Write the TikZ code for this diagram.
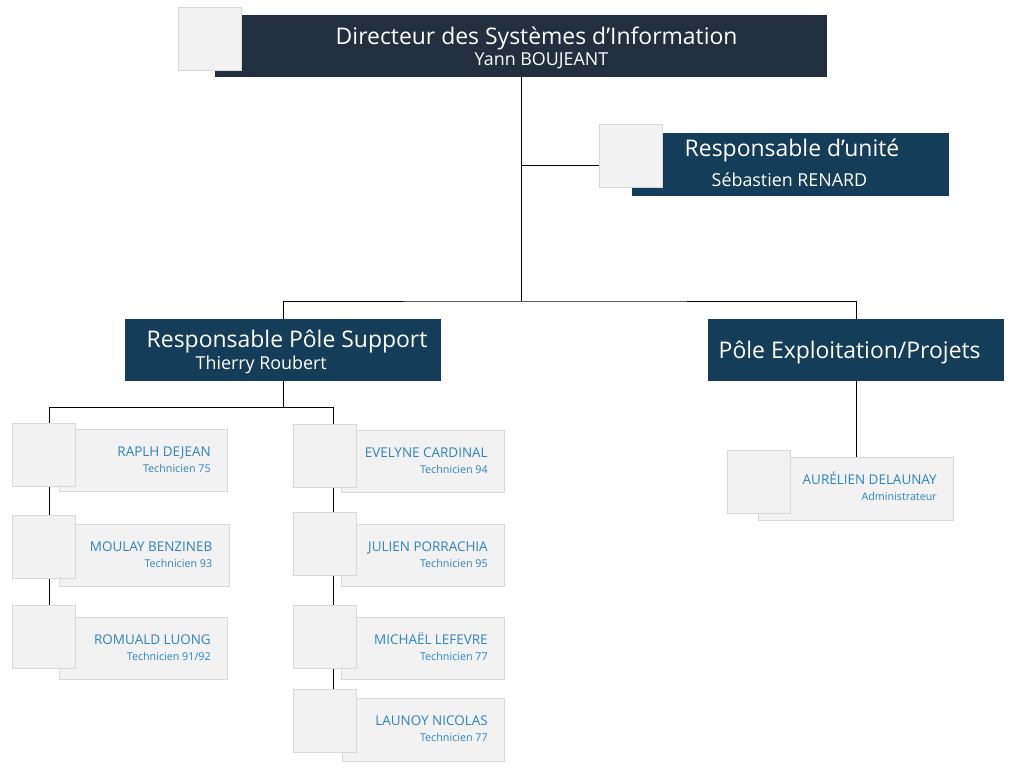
\documentclass[tikz,border=0pt]{standalone}
\usepackage{fontspec}
\setmainfont{Open Sans}
\usetikzlibrary{backgrounds}
\definecolor{dsiblue}{HTML}{222F3E}
\definecolor{headblue}{HTML}{143D59}
\definecolor{namblue}{HTML}{2E83BD}
\definecolor{cardfill}{HTML}{F2F2F2}
\definecolor{cardline}{HTML}{D9D9D9}
\tikzstyle{box}=[inner sep=0, outer sep=0, anchor=north west]
\tikzstyle{head}=[box, fill=headblue, minimum height=46.5pt]
\tikzstyle{card}=[box, draw=cardline, fill=cardfill, line width=0.75pt, xshift=0.3pt, yshift=-0.3pt]
\tikzstyle{photo}=[card, minimum width=47pt, minimum height=47pt]
\tikzstyle{wtext}=[inner sep=0, text=white, anchor=base west, xshift=-0.4pt]
\tikzstyle{title}=[wtext, yshift=-0.5pt, font=\fontsize{17.2}{20}\selectfont]
\tikzstyle{who}=[wtext, yshift=-0.75pt, font=\fontsize{13.4}{15}\selectfont]
\tikzstyle{cname}=[inner sep=0, text=namblue, anchor=base east, yshift=-0.4pt, font=\fontsize{10.1}{12}\selectfont]
\tikzstyle{cjob}=[inner sep=0, text=namblue, anchor=base east, font=\fontsize{8.05}{9}\selectfont]
\tikzset{wh/.style 2 args={minimum width=#1*0.75pt, minimum height=#2*0.75pt}}
\begin{document}
\begin{tikzpicture}[x=0.75pt, y=-0.75pt]
    \useasboundingbox (0, 0) rectangle (1020, 767);
    % Direction
    \node[head, fill=dsiblue, wh={612}{62}] (dsi) at (215, 15) {};
    \node[photo] (dsiphoto) at (178, 7) {};
    \node[title] (dsititle) at (336, 44) {Directeur des Systèmes d’Information};
    \node[who] (dsiname) at (475, 64) {Yann BOUJEANT};
    \node[head, wh={317}{63}] (unit) at (632, 133) {};
    \node[photo] (unitphoto) at (599, 124) {};
    \node[title] (unittitle) at (685, 156) {Responsable d’unité};
    \node[who] (unitname) at (712, 185) {Sébastien RENARD};
    % Poles
    \node[head, wh={316}{62}] (support) at (125, 319) {};
    \node[title] (supporttitle) at (147, 347) {Responsable Pôle Support};
    \node[who] (supportname) at (196, 368) {Thierry Roubert};
    \node[head, wh={296}{62}] (exploit) at (708, 319) {};
    \node[title] (exploittitle) at (719, 358) {Pôle Exploitation/Projets};
    % Left column
    \node[card, wh={168}{62}] (raplh) at (59, 429) {};
    \node[photo] (raplhphoto) at (12, 423) {};
    \node[cname] (raplhname) at (211, 456) {RAPLH DEJEAN};
    \node[cjob] (raplhjob) at (211, 472) {Technicien 75};
    \node[card, wh={170}{62}] (moulay) at (59, 524) {};
    \node[photo] (moulayphoto) at (12, 515) {};
    \node[cname] (moulayname) at (212.5, 551) {MOULAY BENZINEB};
    \node[cjob] (moulayjob) at (212.5, 567) {Technicien 93};
    \node[card, wh={168}{62}] (romuald) at (59, 617) {};
    \node[photo] (romualdphoto) at (12, 605) {};
    \node[cname] (romualdname) at (211, 644) {ROMUALD LUONG};
    \node[cjob] (romualdjob) at (211, 660) {Technicien 91/92};
    % Right column
    \node[card, wh={163}{62}] (evelyne) at (341, 430) {};
    \node[photo] (evelynephoto) at (293, 424) {};
    \node[cname] (evelynename) at (488, 457) {EVELYNE CARDINAL};
    \node[cjob] (evelynejob) at (488, 473) {Technicien 94};
    \node[card, wh={163}{62}] (julien) at (341, 524) {};
    \node[photo] (julienphoto) at (293, 512) {};
    \node[cname] (julienname) at (488, 551) {JULIEN PORRACHIA};
    \node[cjob] (julienjob) at (488, 567) {Technicien 95};
    \node[card, wh={163}{62}] (michael) at (341, 617) {};
    \node[photo] (michaelphoto) at (293, 605) {};
    \node[cname] (michaelname) at (488, 644) {MICHAËL LEFEVRE};
    \node[cjob] (michaeljob) at (488, 660) {Technicien 77};
    \node[card, wh={162}{63}] (launoy) at (342, 698) {};
    \node[photo] (launoyphoto) at (293, 689) {};
    \node[cname] (launoyname) at (488, 725) {LAUNOY NICOLAS};
    \node[cjob] (launoyjob) at (488, 741) {Technicien 77};
    % Exploitation
    \node[card, wh={195}{63}] (aurelien) at (758, 457) {};
    \node[photo] (aurelienphoto) at (727, 450) {};
    \node[cname] (aurelienname) at (937, 484) {AURÉLIEN DELAUNAY};
    \node[cjob] (aurelienjob) at (937, 500) {Administrateur};
    % Connectors
    \coordinate (trunk) at (521, 301);
    \coordinate (unitjoin) at (521, 165);
    \coordinate (leftbus) at (49, 407);
    \coordinate (rightbus) at (333, 407);
    \begin{scope}[on background layer, line width=0.75pt]
        \draw (dsi.south) -- (trunk);
        \draw (unitjoin) -- (unitjoin -| unitphoto.west);
        \draw (support.north) |- (trunk) -| (exploit.north);
        \draw (exploit.south) -- (exploit.south |- aurelien.north);
        \draw (support.south) -- (support.south |- leftbus);
        \draw (romualdphoto.north -| leftbus) -- (leftbus) -- (rightbus) -- (launoyphoto.north -| rightbus);
    \end{scope}
\end{tikzpicture}
\end{document}
